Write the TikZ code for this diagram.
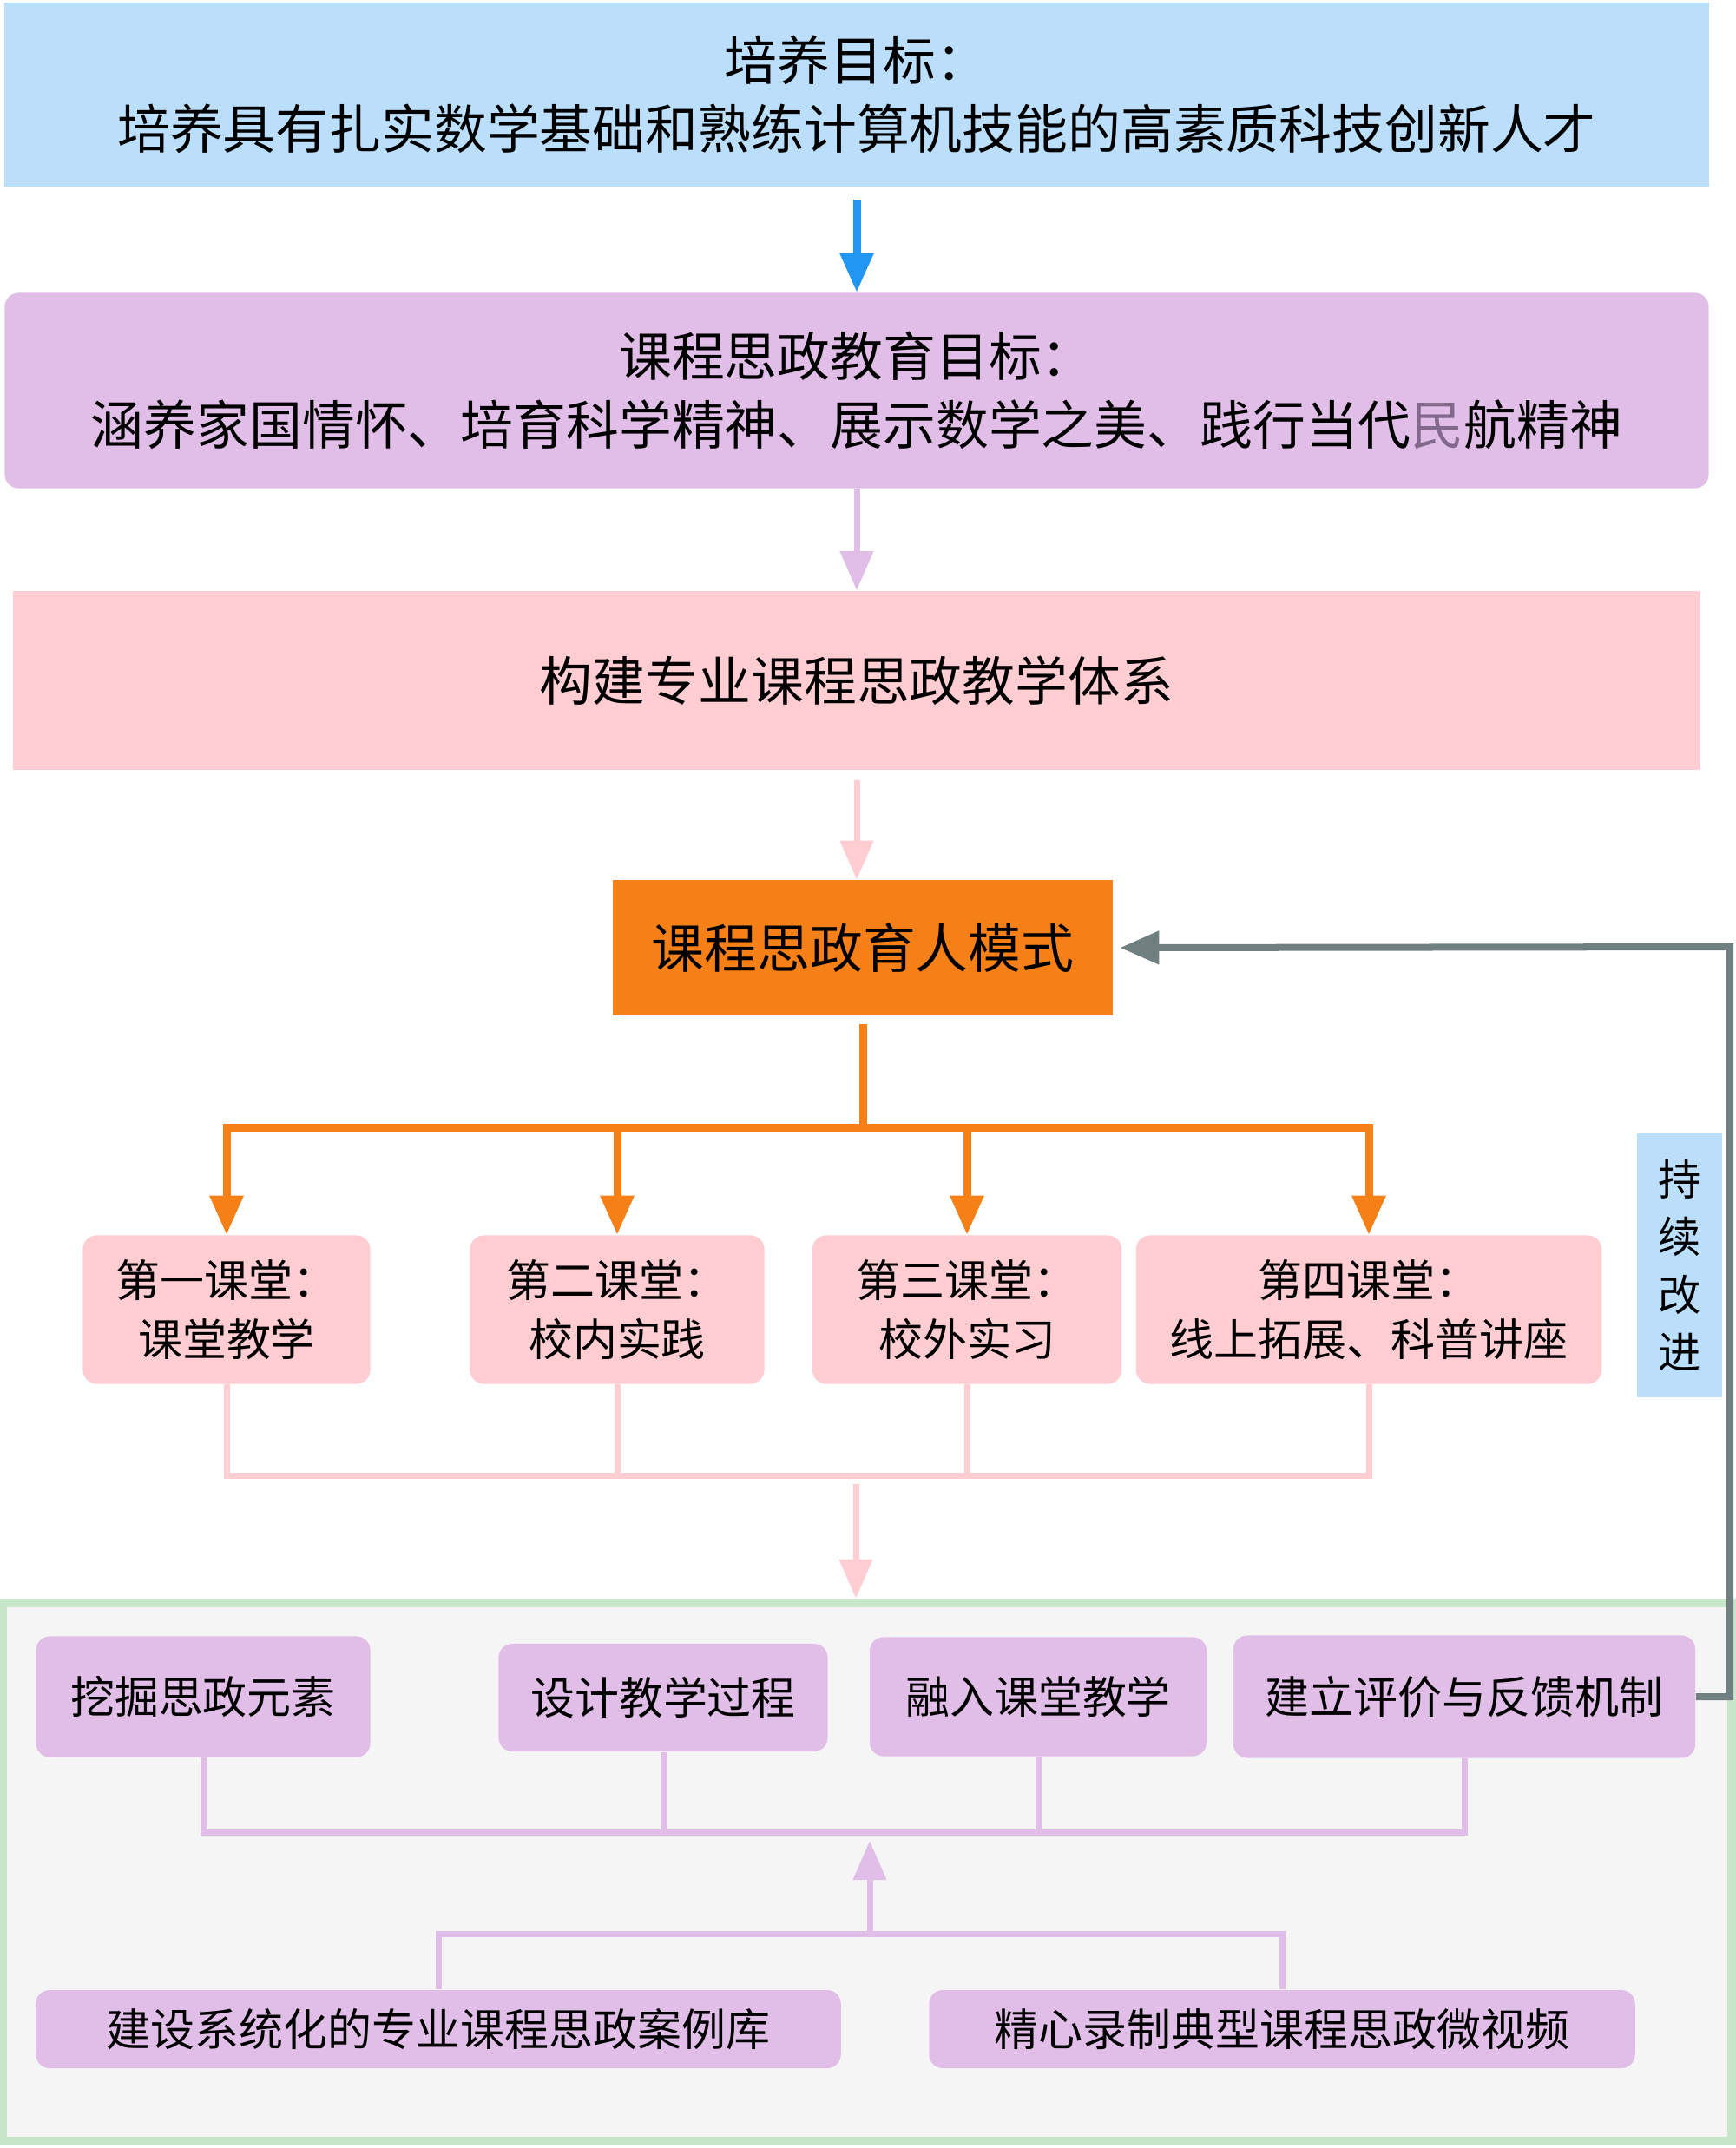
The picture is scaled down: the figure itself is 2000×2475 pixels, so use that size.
\documentclass[tikz,border=0pt]{standalone}
\usepackage{fontspec}
\setmainfont{Noto Sans CJK SC}
\usetikzlibrary{arrows.meta}

\definecolor{goalblue}{RGB}{187,222,251}
\definecolor{ideopurple}{RGB}{225,190,231}
\definecolor{syspink}{RGB}{255,205,210}
\definecolor{modeorange}{RGB}{245,128,24}
\definecolor{arrowblue}{RGB}{33,150,243}
\definecolor{loopgray}{RGB}{112,128,128}
\definecolor{framegreen}{RGB}{200,230,201}
\definecolor{framefill}{RGB}{245,245,245}
\definecolor{mingray}{RGB}{130,105,140}

\begin{document}
\begin{tikzpicture}[x=0.01cm, y=-0.01cm,
  bigbox/.style={inner sep=0pt, align=center, font=\fontsize{17.3}{22.5}\selectfont},
  classbox/.style={inner sep=0pt, align=center, fill=syspink, rounded corners=0.16cm,
    minimum height=1.71cm, font=\fontsize{14.5}{19.5}\selectfont},
  taskbox/.style={inner sep=0pt, align=center, fill=ideopurple, rounded corners=0.16cm,
    font=\fontsize{14.5}{19.5}\selectfont},
  flow/.style={line width=0.09cm, -{Triangle[length=0.45cm, width=0.37cm]}},
  orangeline/.style={modeorange, line width=0.09cm},
  pinkline/.style={syspink, line width=0.07cm},
  lilacline/.style={ideopurple, line width=0.07cm}
]
\useasboundingbox (0,0) rectangle (2000,2475);

% Goals
\node[bigbox, fill=goalblue, minimum width=19.62cm, minimum height=2.12cm] (goal) at (987,109)
  {培养目标：\\培养具有扎实数学基础和熟练计算机技能的高素质科技创新人才};
\node[bigbox, fill=ideopurple, rounded corners=0.16cm, minimum width=19.62cm, minimum height=2.25cm] (ideo) at (987,450)
  {课程思政教育目标：\\涵养家国情怀、培育科学精神、展示数学之美、践行当代\textcolor{mingray}{民}航精神};
\node[bigbox, fill=syspink, minimum width=19.43cm, minimum height=2.06cm] (sys) at (987,784)
  {构建专业课程思政教学体系};
\node[bigbox, fill=modeorange, minimum width=5.75cm, minimum height=1.55cm] (mode) at (994,1092)
  {课程思政育人模式};

\draw[flow, arrowblue, shorten <=0.14cm] (goal) -- (ideo);
\draw[flow, ideopurple, line width=0.07cm] (ideo) -- (sys);
\draw[flow, syspink, line width=0.07cm, shorten <=0.11cm] (sys.south) -- (sys.south |- mode.north);

% Four classrooms
\node[classbox, minimum width=3.31cm] (c1) at (261,1509) {第一课堂：\\课堂教学};
\node[classbox, minimum width=3.39cm] (c2) at (711,1509) {第二课堂：\\校内实践};
\node[classbox, minimum width=3.56cm] (c3) at (1114,1509) {第三课堂：\\校外实习};
\node[classbox, minimum width=5.36cm] (c4) at (1577,1509) {第四课堂：\\线上拓展、科普讲座};

\coordinate (split) at (994,1299);
\draw[orangeline, shorten <=0.1cm] (mode.south) -- (split);
\foreach \c in {c1,c2,c3,c4}
  \draw[flow, modeorange] (split) -| (\c.north);

\coordinate (merge) at (986,1700);
\foreach \c in {c1,c2,c3,c4}
  \draw[pinkline] (\c.south) |- (merge);

% Implementation
\node[draw=framegreen, line width=0.1cm, fill=framefill, minimum width=19.9cm, minimum height=6.2cm, inner sep=0pt] (stage) at (999,2157) {};
\draw[flow, syspink, line width=0.07cm, shorten <=0.1cm] (merge) -- (merge |- stage.north);

\node[taskbox, minimum width=3.85cm, minimum height=1.39cm] (dig) at (234,1955) {挖掘思政元素};
\node[taskbox, minimum width=3.79cm, minimum height=1.24cm] (design) at (764,1956) {设计教学过程};
\node[taskbox, minimum width=3.88cm, minimum height=1.37cm] (merge in) at (1196,1955) {融入课堂教学};
\node[taskbox, minimum width=5.32cm, minimum height=1.41cm] (eval) at (1687,1955) {建立评价与反馈机制};

\node[taskbox, minimum width=9.27cm, minimum height=0.9cm] (case) at (505,2338) {建设系统化的专业课程思政案例库};
\node[taskbox, minimum width=8.13cm, minimum height=0.9cm] (video) at (1477,2338) {精心录制典型课程思政微视频};

\coordinate (gather) at (1002,2111);
\coordinate (feed) at (1002,2228);
\foreach \t in {dig,design,merge in,eval}
  \draw[lilacline] (\t.south) |- (gather);
\draw[lilacline] (case.north) |- (feed);
\draw[lilacline] (video.north) |- (feed);
\draw[flow, ideopurple, line width=0.07cm] (feed) -- ([yshift=-0.1cm]gather);

% Feedback loop
\node[inner sep=0pt, fill=goalblue, minimum width=0.98cm, minimum height=3.04cm, align=center,
  font=\fontsize{14}{18.8}\selectfont] (keep) at (1935,1458) {持\\续\\改\\进};
\coordinate (loopcorner) at (1993,1091);
\draw[flow, loopgray, line width=0.08cm, shorten >=0.08cm] (eval.east) -| (loopcorner) -- (mode.east);
\end{tikzpicture}
\end{document}
